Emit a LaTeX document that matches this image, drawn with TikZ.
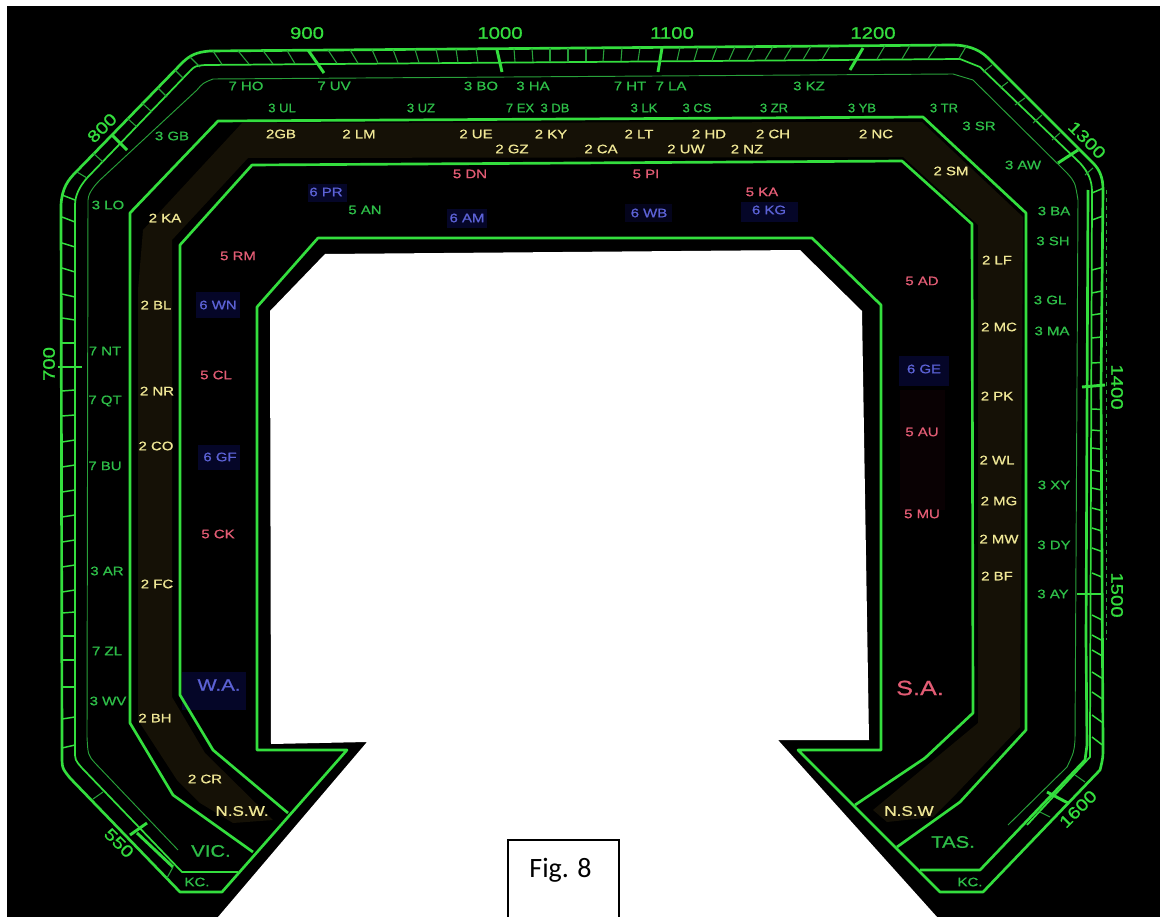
\documentclass[tikz,border=0pt]{standalone}
\usepackage{fontspec}
\setmainfont[FakeStretch=1.22,FakeBold=0.8]{Liberation Sans}
\newfontfamily\tightfont[FakeStretch=1.06,FakeBold=0.8]{Liberation Sans}
\newfontfamily\figfont{Carlito}
\usepackage{xcolor}
\usepackage{tikz}
\usetikzlibrary{positioning}
\definecolor{mapgreen}{RGB}{52,222,62}
\definecolor{thingreen}{RGB}{40,160,58}
\definecolor{lblgreen}{RGB}{46,190,72}
\definecolor{lblyellow}{RGB}{240,232,150}
\definecolor{lblred}{RGB}{226,92,116}
\definecolor{lblblue}{RGB}{92,98,214}
\definecolor{navybox}{RGB}{5,6,40}
\definecolor{olive}{RGB}{21,17,6}
\definecolor{maroon}{RGB}{9,1,3}
\tikzset{
  zone/.style={mapgreen, line width=2pt, line join=round},
  band/.style={mapgreen, line width=1.3pt, line join=round},
  wire/.style={thingreen, line width=0.7pt, line join=round},
  tick/.style={thingreen, line width=0.8pt},
  sidetick/.style={mapgreen, line width=1.1pt},
  major/.style={mapgreen, line width=2.2pt},
  num/.style={text=mapgreen, font=\fontsize{12.5}{14}\selectfont, inner sep=0pt},
  gr/.style={text=lblgreen, font=\fontsize{9.2}{11}\selectfont, inner sep=0pt},
  grt/.style={text=lblgreen, font=\tightfont\fontsize{9.2}{11}\selectfont, inner sep=0pt},
  ye/.style={text=lblyellow, font=\fontsize{9.2}{11}\selectfont, inner sep=0pt},
  rd/.style={text=lblred, font=\fontsize{9.2}{11}\selectfont, inner sep=0pt},
  bl/.style={text=lblblue, font=\fontsize{9.2}{11}\selectfont, inner sep=0pt},
  statelbl/.style={font=\fontsize{12.5}{14}\selectfont, inner sep=0pt},
  figline/.style={black, line width=1.2pt}
}
\begin{document}
\begin{tikzpicture}[x=0.75pt,y=-0.75pt]
\useasboundingbox (0,0) rectangle (1160,917);
\fill[white] (0,0) rectangle (1160,917);
\fill[black] (7,6) rectangle (1160,917);
% middle cut-out
\fill[white] (270,311)--(325,254)--(800,250)--(862,311)--(869,740)--(778,740)--(937,917)
  --(218,917)--(367,742)--(271,744)--cycle;
% shaded zone
\fill[olive] (138,720)--(138,290)--(143,230)--(242,123)--(922,122)--(1023,217)--(1020,727)
  --(957,793)--(933,817)--(887,822)--(873,810)--(978,723)--(978,225)--(903,157)--(248,158)
  --(172,240)--(172,697)--(205,753)--(273,820)--(233,823)--(200,803)--(177,780)--cycle;
\fill[navybox] (308,184) rectangle (347,202);
\fill[navybox] (447,209) rectangle (487,228);
\fill[navybox!70!black] (625,204) rectangle (672,222);
\fill[navybox] (741,202) rectangle (798,222);
\fill[navybox] (196,292) rectangle (240,318);
\fill[navybox] (899,356) rectangle (949,386);
\fill[navybox] (198,445) rectangle (240,470);
\fill[navybox] (182,672) rectangle (246,710);
\fill[maroon] (900,390) rectangle (945,510);

% outline and zones
\draw[zone] (222,892)--(180,892)--(70,778) .. controls (62,768) .. (62,755)--(61,205)
  .. controls (62,188) and (68,180) .. (76,172)--(182,63) .. controls (190,55) and (197,52) .. (210,51)
  --(952,45) .. controls (965,45) and (978,48) .. (988,58)--(1093,163)
  .. controls (1100,170) and (1103,178) .. (1103,190)--(1101,387)--(1103,745)
  .. controls (1103,758) .. (1100,770)--(983,892)--(940,892)--(798,750)--(881,750)--(881,305)
  --(812,238)--(318,238)--(257,307)--(257,750)--(347,750)--cycle;
\draw[zone] (253,852)--(173,795)--(130,723)--(130,213)--(218,121)--(923,117)--(1026,213)
  --(1026,730)--(960,802)--(897,847);
\draw[zone] (288,813)--(213,750)--(180,695)--(180,245)--(252,165)--(902,161)--(972,224)
  --(973,713)--(925,758)--(855,805);
\draw[band] (238,872)--(182,872)--(82,768) .. controls (75,760) .. (75,750)--(75,205)
  .. controls (75,195) and (80,186) .. (87,178)--(190,71) .. controls (195,66) .. (205,65)
  --(960,59)--(980,67)--(1080,163) .. controls (1088,172) and (1092,180) .. (1092,192)
  --(1090,740)--(1090,757)--(1027,825);
\draw[zone] (1088,190)--(1086,640)--(1087,745)--(1085,760)--(980,870)--(920,870);
\draw[wire] (178,850)--(95,763) .. controls (88,755) .. (87,737)--(88,200)
  .. controls (88,195) and (92,188) .. (100,180)--(197,90) .. controls (203,83) .. (213,79)
  --(953,74)--(973,80)--(1067,173) .. controls (1075,182) .. (1078,200)--(1075,740)
  .. controls (1074,752) .. (1067,767)--(1008,825);
\draw[wire,dashed] (1106,190)--(1106,640);
\draw[major] (137,833)--(173,867);

% scale marks, top side
\foreach \xa/\xb in {213/222,238/249,263/273,287/295,328/337,350/358,372/378,393/398,415/419,
  436/439,456/458,476/478,514/515,532/533,550/550,568/568,586/586,604/603,622/621,640/638,
  680/677,698/694,717/712,735/729,754/747,773/765,792/784,811/803,830/822,885/877,910/902,937/928,967/959}
  {\draw[tick] (\xa,{51-0.008*(\xa-210)})--(\xb,{64.5-0.008*(\xb-205)});}
% scale marks, corners
\foreach \xa/\ya/\xb/\yb in {77/172/87/178,93/153/103/162,127/118/137/127,142/103/152/112,158/88/167/97,
  175/70/183/78,190/57/200/67,992/65/983/72,1008/82/1000/88,1025/98/1015/105,1042/115/1033/123,
  1060/133/1052/140,1093/168/1085/175,103/792/93/799,1085/782/1075/775,1050/817/1040/812,173/867/167/878}
  {\draw[tick] (\xa,\ya)--(\xb,\yb);}
% scale marks, left and right sides
\foreach \y/\d in {200/5,222/5,247/4,272/4,297/3,320/2,343/0,390/-1,415/-1,440/-2,465/-2,490/-2,515/-2,540/-2,
  565/-2,590/-2,612/-1,636/0,660/0,687/0,717/-2,745/-3}
  {\draw[sidetick] (62,\y-\d)--(75,\y);}
\foreach \y in {193,220,270,293,315,338,363,409,430,448,470,488,508,528,548,573,615,635,650,672,692,715,737}
  {\pgfmathsetmacro{\d}{(\y-387)*0.022}
   \draw[sidetick] (1092,\y)--(1102,\y+\d);}
% hundreds
\draw[major] (308,50)--(324,73); \draw[major] (497,50)--(502,72);
\draw[major] (662,48)--(658,72); \draw[major] (863,48)--(850,70);
\draw[major] (112,135)--(127,150); \draw[major] (58,367)--(82,367);
\draw[major] (1078,150)--(1058,163); \draw[major] (1082,387)--(1105,385);
\draw[major] (1077,594)--(1101,594); \draw[major] (1047,792)--(1068,803);
\draw[major] (130,835)--(147,823);

\node[num] (n900) at (307,33) {900};
\node[num] (n1000) at (500,33) {1000};
\node[num] (n1100) at (672,33) {1100};
\node[num] (n1200) at (873,33) {1200};
\node[num,rotate=45] (n800) at (102,128) {800};
\node[num,rotate=90] (n700) at (49,364) {700};
\node[num,rotate=-45] (n1300) at (1087,140) {1300};
\node[num,rotate=-90] (n1400) at (1117,387) {1400};
\node[num,rotate=-90] (n1500) at (1117,595) {1500};
\node[num,rotate=45] (n1600) at (1078,809) {1600};
\node[num,rotate=-45] (n550) at (119,843) {550};

\node[gr] (ho) at (246,86) {7 HO}; \node[gr] (uv) at (334,86) {7 UV};
\node[gr] (bo) at (481,86) {3 BO}; \node[gr] (ha) at (533,86) {3 HA};
\node[gr] (ht) at (630,86) {7 HT}; \node[gr] (la) at (671,86) {7 LA};
\node[gr] (kz) at (809,86) {3 KZ};
\node[grt] (ul) at (282,108) {3 UL}; \node[grt] (uz) at (421,108) {3 UZ};
\node[grt] (ex) at (520,108) {7 EX}; \node[grt] (db) at (555,108) {3 DB};
\node[grt] (lk) at (644,108) {3 LK}; \node[grt] (cs) at (697,108) {3 CS};
\node[grt] (zr) at (774,108) {3 ZR}; \node[grt] (yb) at (862,108) {3 YB};
\node[grt] (tr) at (944,108) {3 TR}; \node[gr] (sr) at (979,126) {3 SR};
\node[gr] (gb) at (172,136) {3 GB}; \node[gr] (aw) at (1023,165) {3 AW};
\node[gr] (lo) at (108,205) {3 LO}; \node[gr] (ba) at (1054,211) {3 BA};
\node[gr] (sh) at (1053,241) {3 SH}; \node[gr] (gl) at (1050,300) {3 GL};
\node[gr] (ma) at (1052,331) {3 MA}; \node[gr] (xy) at (1054,485) {3 XY};
\node[gr] (dy) at (1054,545) {3 DY}; \node[gr] (ay) at (1053,594) {3 AY};
\node[gr] (nt) at (105,351) {7 NT}; \node[gr] (qt) at (105,401) {7 QT};
\node[gr] (bu) at (105,466) {7 BU}; \node[gr] (ar) at (107,571) {3 AR};
\node[gr] (zl) at (107,651) {7 ZL}; \node[gr] (wv) at (108,701) {3 WV};
\node[gr] (an) at (365,210) {5 AN};

\node[ye] (gb2) at (281,134) {2GB}; \node[ye] (lm) at (359,134) {2 LM};
\node[ye] (ue) at (476,134) {2 UE}; \node[ye] (ky) at (551,134) {2 KY};
\node[ye] (lt) at (639,134) {2 LT}; \node[ye] (hd) at (709,134) {2 HD};
\node[ye] (ch) at (773,134) {2 CH}; \node[ye] (nc) at (876,134) {2 NC};
\node[ye] (gz) at (512,149) {2 GZ}; \node[ye] (ca) at (601,149) {2 CA};
\node[ye] (uw) at (686,149) {2 UW}; \node[ye] (nz) at (747,149) {2 NZ};
\node[ye] (sm) at (951,171) {2 SM}; \node[ye] (ka2) at (165,218) {2 KA};
\node[ye] (lf) at (997,260) {2 LF}; \node[ye] (bl2) at (156,305) {2 BL};
\node[ye] (mc) at (999,327) {2 MC}; \node[ye] (nr) at (157,391) {2 NR};
\node[ye] (pk) at (997,396) {2 PK}; \node[ye] (co) at (156,446) {2 CO};
\node[ye] (wl) at (997,460) {2 WL}; \node[ye] (mg) at (999,501) {2 MG};
\node[ye] (mw) at (999,539) {2 MW}; \node[ye] (bf) at (997,576) {2 BF};
\node[ye] (fc) at (157,584) {2 FC}; \node[ye] (bh) at (155,718) {2 BH};
\node[ye] (cr) at (205,779) {2 CR};

\node[rd] (dn) at (470,174) {5 DN}; \node[rd] (pi5) at (646,174) {5 PI};
\node[rd] (ka5) at (762,192) {5 KA}; \node[rd] (rm) at (238,256) {5 RM};
\node[rd] (ad) at (922,281) {5 AD}; \node[rd] (cl) at (216,375) {5 CL};
\node[rd] (au) at (922,432) {5 AU}; \node[rd] (mu) at (922,514) {5 MU};
\node[rd] (ck) at (218,534) {5 CK};

\node[bl] (pr) at (326,192) {6 PR}; \node[bl] (am) at (467,218) {6 AM};
\node[bl] (wb) at (649,213) {6 WB}; \node[bl] (kg) at (769,210) {6 KG};
\node[bl] (wn) at (218,305) {6 WN}; \node[bl] (ge) at (924,369) {6 GE};
\node[bl] (gf) at (220,457) {6 GF};

\node[statelbl,text=lblblue] (wa) at (219,685) {W.A.};
\node[statelbl,text=lblred,font=\fontsize{15.5}{18}\selectfont] (sa) at (920,688) {S.A.};
\node[statelbl,text=lblyellow,font=\fontsize{10.5}{12}\selectfont] (nswl) at (242,811) {N.S.W.};
\node[statelbl,text=lblyellow,font=\fontsize{10.5}{12}\selectfont] (nswr) at (909,811) {N.S.W};
\node[statelbl,text=lblgreen] (vic) at (211,851) {VIC.};
\node[statelbl,text=lblgreen] (tas) at (953,842) {TAS.};
\node[gr] (kcl) at (197,882) {KC.};
\node[gr] (kcr) at (970,882) {KC.};

\fill[white] (508,840) rectangle (619,917);
\draw[figline] (508,917)--(508,840)--(619,840)--(619,917);
\node[inner sep=0pt,font=\figfont\fontsize{21}{24}\selectfont] (figtxt) at (560.5,870) {Fig. 8};
\end{tikzpicture}
\end{document}
